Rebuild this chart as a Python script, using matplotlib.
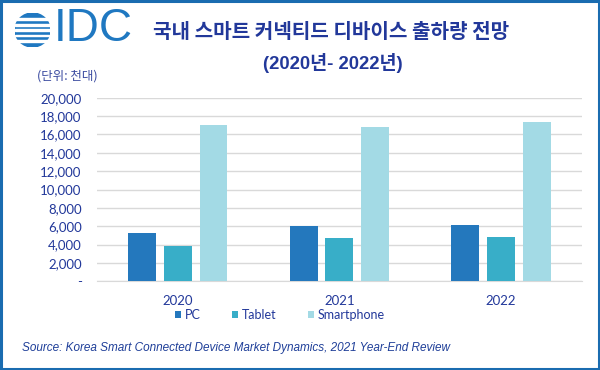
import numpy as np
import matplotlib.pyplot as plt
from matplotlib.patches import Rectangle, Circle
from matplotlib.ticker import FuncFormatter

years = ["2020", "2021", "2022"]
labels = ["PC", "Tablet", "Smartphone"]
pc = [5250, 6000, 6150]
tablet = [3800, 4700, 4850]
smartphone = [17050, 16850, 17350]

colors = ["#2478BD", "#38AEC8", "#A3DAE5"]
navy = "#22389A"
title = "국내 스마트 커넥티드 디바이스 출하량 전망"
subtitle = "(2020년- 2022년)"
unit = "(단위: 천대)"
source = "Source: Korea Smart Connected Device Market Dynamics, 2021 Year-End Review"

W, H = 600, 370
fig = plt.figure(figsize=(6, 3.7), dpi=100)
fig.patch.set_facecolor("white")

def fx(px):
    return px / W

def fy(py):
    return 1 - py / H

ax = fig.add_axes([fx(97), fy(281.3), fx(581.7) - fx(97), fy(97.7) - fy(281.3)])

x = np.arange(len(years))
bw = 0.173
step = 0.221
for i, vals in enumerate([pc, tablet, smartphone]):
    ax.bar(x + (i - 1) * step, vals, width=bw, color=colors[i], label=labels[i], zorder=3)

ax.set_xlim(-0.5, 2.5)
ax.set_ylim(0, 20000)
ax.set_yticks(np.arange(0, 20001, 2000))
ax.yaxis.set_major_formatter(FuncFormatter(lambda v, p: "-" if v == 0 else f"{int(v):,}"))
ax.grid(axis="y", color="#D9D9D9", lw=1, zorder=0)
for s in ["top", "right", "left"]:
    ax.spines[s].set_visible(False)
ax.spines["bottom"].set_color("#D9D9D9")
ax.tick_params(length=0, labelsize=9.5, labelcolor=navy)
ax.tick_params(axis="y", pad=11)
ax.tick_params(axis="x", pad=10)
ax.set_xticks(x)
ax.set_xticklabels(years)
for t in ax.get_xticklabels() + ax.get_yticklabels():
    t.set_family("Lato")

leg = fig.legend(loc="center", bbox_to_anchor=(fx(280), fy(315)), ncol=3, frameon=False,
                 handlelength=0.5, handleheight=0.5, handletextpad=0.3, columnspacing=2.5,
                 prop={"family": "Lato", "size": 9})
for t in leg.get_texts():
    t.set_color(navy)

fig.text(fx(331), fy(32), title, ha="center", va="center", fontsize=14.5, fontweight="bold",
         color=navy, family=["Noto Sans CJK KR", "DejaVu Sans"])
fig.text(fx(333), fy(63), subtitle, ha="center", va="center", fontsize=13.3, fontweight="bold",
         color=navy, family=["Liberation Sans", "Noto Sans CJK KR"])
fig.text(fx(37), fy(76), unit, ha="left", va="center", fontsize=9,
         color="#3A4AA0", family=["Noto Sans CJK KR", "DejaVu Sans"])
fig.text(fx(22), fy(348), source, ha="left", va="center", fontsize=8.5, style="italic",
         color="#1F3F99", family="Liberation Sans")

# logo
fig.text(fx(54), fy(29), "IDC", ha="left", va="center", fontsize=33, color="#1F78C1",
         family="Liberation Sans")
lax = fig.add_axes([fx(15), fy(47), fx(35), 34 / H])
lax.set_xlim(-1, 1)
lax.set_ylim(-1, 1)
lax.axis("off")
lax.add_patch(Circle((0, 0), 1, color="#1F78C1"))
for yy in [-0.7, -0.38, -0.06, 0.26, 0.58]:
    lax.axhspan(yy, yy + 0.1, color="white", zorder=3)

fig.add_artist(Rectangle((0.002, 0.003), 0.996, 0.994, transform=fig.transFigure,
                         fill=False, edgecolor="#1A6CB0", lw=2.2))

fig.savefig("out.png", dpi=100)
